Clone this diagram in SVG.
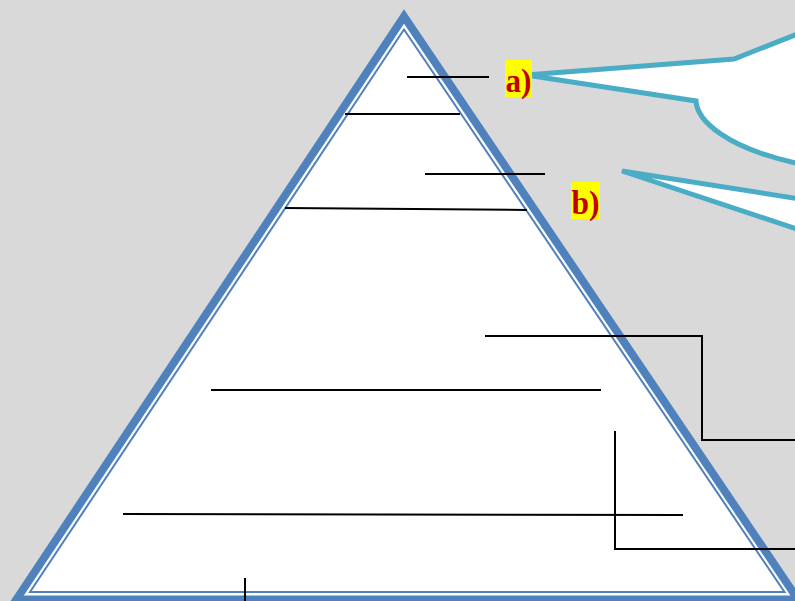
<svg xmlns="http://www.w3.org/2000/svg" width="795" height="601" viewBox="0 0 795 601">
<style>
.tri-outer{fill:#ffffff;stroke:#4f81bd;stroke-width:8;stroke-linejoin:miter;stroke-miterlimit:10}
.tri-inner{fill:none;stroke:#4f81bd;stroke-width:2;stroke-linejoin:miter;stroke-miterlimit:10}
.callout{fill:#ffffff;stroke:#4bacc6;stroke-width:5;stroke-linejoin:miter;stroke-miterlimit:3}
.lbl-box{fill:#ffff00}
.lbl{font-family:"Liberation Serif","Times New Roman",serif;font-weight:bold;font-size:33px;fill:#c00000}
.ln{fill:none;stroke:#000000;stroke-width:2}
</style>
<rect x="0" y="0" width="795" height="601" fill="#d9d9d9"/>
<g id="pyramid">
<polygon class="tri-outer" points="404,16.5 16.4,599.5 798,599.5"/>
<polygon class="tri-inner" points="404,29.5 30,592 784.5,592"/>
</g>
<g id="callout-a">
<path class="callout" d="M 800,33 L 734,59 L 526,75 L 696,101 C 697,120 725,148 800,164 Z"/>
</g>
<g id="callout-b">
<path class="callout" d="M 800,199 L 622,171 L 800,230 Z"/>
</g>
<g id="label-a">
<rect class="lbl-box" x="505" y="60" width="27" height="37"/>
<text class="lbl" x="505.5" y="92" textLength="26" lengthAdjust="spacingAndGlyphs">a)</text>
</g>
<g id="label-b">
<rect class="lbl-box" x="571" y="182" width="29" height="37"/>
<text class="lbl" x="571.5" y="214" textLength="28" lengthAdjust="spacingAndGlyphs">b)</text>
</g>
<g id="connectors">
<line class="ln" x1="407" y1="77" x2="489" y2="77"/>
<line class="ln" x1="345" y1="114" x2="460" y2="114"/>
<line class="ln" x1="425" y1="174" x2="545" y2="174"/>
<line class="ln" x1="285" y1="208" x2="527" y2="210"/>
<polyline class="ln" points="485,336 702,336 702,440 795,440"/>
<line class="ln" x1="211" y1="390" x2="601" y2="390"/>
<line class="ln" x1="123" y1="514" x2="683" y2="515"/>
<polyline class="ln" points="615,431 615,549 795,549"/>
<line class="ln" x1="245" y1="578" x2="245" y2="601"/>
</g>
</svg>
